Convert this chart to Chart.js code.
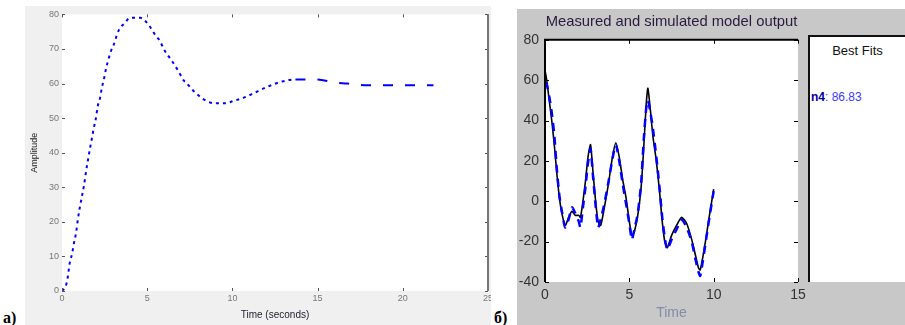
<!DOCTYPE html>
<html><head><meta charset="utf-8">
<script src="https://cdn.jsdelivr.net/npm/chart.js@4.4.1/dist/chart.umd.min.js"></script>
<style>
html,body{margin:0;padding:0;background:#fff;width:905px;height:325px;overflow:hidden;position:relative;font-family:"Liberation Sans",Arial,sans-serif}
#wa{position:absolute;left:25px;top:6px;width:466px;height:319px;overflow:hidden;background:#f0f0f0}
#ca{position:absolute;left:0;top:0}
#wb{position:absolute;left:517px;top:9px;width:388px;height:316px;background:#c8c8c8}
#cb{position:absolute;left:0;top:0}
#fits{position:absolute;left:808px;top:35px;width:97px;height:247px;background:#fff;border-left:2px solid #111;border-top:2px solid #111;box-sizing:border-box}
#fitsT{position:absolute;left:0;width:95px;top:6px;text-align:center;font-size:13px;color:#111}
#fitsV{position:absolute;left:1px;top:53px;font-size:12px;color:#3a3aff;white-space:nowrap}
#fitsV b{color:#0000a0}
.lab{position:absolute;font-family:"Liberation Serif","DejaVu Serif",serif;font-weight:bold;font-size:16px;line-height:16px;color:#000}
</style></head>
<body>
<div id="wa"><canvas id="ca" width="480" height="319"></canvas></div>
<div id="wb"><canvas id="cb" width="388" height="316"></canvas></div>
<div id="fits"><div id="fitsT">Best Fits</div><div id="fitsV"><b>n4</b>: 86.83</div></div>
<div class="lab" style="left:3px;top:310px">a)</div>
<div class="lab" style="left:494px;top:310px">б)</div>
<script>
// ---- panel a) : step response ----
const stepTime = [0,0.22,0.33,0.45,0.6,0.7,0.82,0.94,1.04,1.18,1.29,1.41,1.51,1.65,1.76,1.86,1.98,2.1,2.24,2.33,2.45,2.57,2.66,2.88,3.04,3.22,3.35,3.51,3.65,4.0,4.6,5.0,5.35,5.53,5.7,5.82,5.96,6.35,6.51,6.78,6.94,7.14,7.28,7.63,7.86,8.22,8.51,8.9,9.7,10.0,10.57,11.25,11.84,12.43,12.92,13.7,15.0,15.96,16.74,17.9,21.8];
const stepAmp  = [0,1.4,3.7,8,11,13.8,16.7,21,24,27.6,30.5,34.5,37.5,41.4,44.3,47,49.7,53.5,56,58.6,61,64,65.8,69.5,71.3,74,75.6,76.7,77.3,79,79,77.5,75,73.6,72.7,71.6,70.1,67.2,66.1,64,62.6,60.9,60.3,58.3,57.2,55.7,54.9,54.3,54.3,54.9,55.7,57.2,58.6,59.8,60.6,61.2,61.2,60.3,60,59.5,59.5];
const xTicksA = [0,5,10,15,20,25];
const yTicksA = [0,10,20,30,40,50,60,70,80];

// ---- panel б) : measured and simulated model output ----
const outTime  = [0,0.1,0.25,0.4,0.55,0.7,0.85,1.0,1.2,1.4,1.6,1.8,2.0,2.1,2.25,2.4,2.55,2.7,2.85,3.0,3.15,3.3,3.5,3.75,4.0,4.2,4.4,4.6,4.8,5.0,5.15,5.3,5.5,5.7,5.85,6.0,6.1,6.25,6.4,6.6,6.8,6.95,7.1,7.25,7.5,7.8,8.1,8.4,8.7,8.9,9.1,9.2,9.35,9.55,9.75,10.0];
const simulated= [59,58,52,44,33,16,3,-5,-13,-9,-3,-6,-10,-13,-3,7,19,26,12,-2,-13,-9,-2,9,21,28,20,9,-1,-11,-19,-14,-6,9,30,46,50,44,36,22,6,-8,-18,-24,-19,-14,-9,-13,-20,-28,-35,-37,-30,-19,-8,5];
const measured = [65,60,50,40,28,14,2,-6,-12,-8,-5,-7,-7,-8,0,10,22,28,14,0,-10,-12,-4,8,22,29,22,11,2,-10,-17,-15,-7,7,26,48,56,45,32,20,4,-10,-20,-23,-17,-12,-8,-11,-19,-26,-33,-34,-28,-18,-7,6];
const xTicksB = [0,5,10,15];
const yTicksB = [-40,-20,0,20,40,60,80];

const pts = (xs, ys) => xs.map((x,i)=>({x, y: ys[i]}));

function framePlugin(id, o){
  return {
    id,
    beforeDraw(chart){
      const {ctx, chartArea:a} = chart;
      ctx.save(); ctx.fillStyle='#fff';
      ctx.fillRect(a.left, a.top, a.right-a.left, a.bottom-a.top);
      ctx.restore();
    },
    afterDraw(chart){
      const {ctx, chartArea:a, scales:{x, y}} = chart;
      ctx.save();
      ctx.strokeStyle = o.tickColor; ctx.lineWidth = 1;
      const L = o.tickLen;
      ctx.beginPath();
      x.ticks.forEach(t=>{
        const px = Math.round(x.getPixelForValue(t.value))+0.5;
        ctx.moveTo(px, a.bottom); ctx.lineTo(px, a.bottom-L);
        ctx.moveTo(px, a.top); ctx.lineTo(px, a.top+L);
      });
      y.ticks.forEach(t=>{
        const py = Math.round(y.getPixelForValue(t.value))+0.5;
        ctx.moveTo(a.left, py); ctx.lineTo(a.left+L, py);
        ctx.moveTo(a.right, py); ctx.lineTo(a.right-L, py);
      });
      ctx.stroke();
      ctx.strokeStyle = o.lineColor; ctx.lineWidth = 2;
      ctx.beginPath();
      o.sides.forEach(s=>{
        if(s==='right'){ctx.moveTo(a.right, a.top); ctx.lineTo(a.right, a.bottom);}
        if(s==='left'){ctx.moveTo(a.left, a.top-1); ctx.lineTo(a.left, a.bottom);}
        if(s==='top'){ctx.moveTo(a.left-1, a.top); ctx.lineTo(a.right, a.top);}
      });
      ctx.stroke();
      ctx.restore();
    }
  };
}

new Chart(document.getElementById('ca'), {
  type: 'line',
  data: { datasets: [{
    data: pts(stepTime, stepAmp),
    borderColor: '#0000ff', borderWidth: 2, pointRadius: 0,
    borderDash: [3,4], cubicInterpolationMode: 'monotone',
    segment: { borderDash: c => c.p0.parsed.x >= 13 ? [10,12] : undefined }
  }]},
  options: {
    responsive: false, animation: false, events: [],
    layout: { padding: { left: 0, top: 7, right: 17, bottom: 0 } },
    plugins: { legend: {display:false}, tooltip: {enabled:false} },
    scales: {
      x: { type: 'linear', min: 0, max: 25,
        afterBuildTicks: s => { s.ticks = xTicksA.map(v=>({value:v})); },
        afterFit: s => { s.height = 34; },
        grid: { display:false, drawTicks:false }, border: { display:false },
        ticks: { padding: 2, color: '#777', font: { size: 9, family: 'Liberation Sans' } },
        title: { display: true, text: 'Time (seconds)', color: '#223', padding: { top: 0, bottom: 4 }, font: { size: 10, family: 'Liberation Sans' } }
      },
      y: { type: 'linear', min: 0, max: 80,
        afterBuildTicks: s => { s.ticks = yTicksA.map(v=>({value:v})); },
        afterFit: s => { s.width = 37; },
        grid: { display:false, drawTicks:false }, border: { display:false },
        ticks: { padding: 3, color: '#777', font: { size: 9, family: 'Liberation Sans' } },
        title: { display: true, text: 'Amplitude', color: '#222', padding: { top: 4, bottom: 0 }, font: { size: 9, family: 'Liberation Sans' } }
      }
    }
  },
  plugins: [framePlugin('frameA', {tickColor:'#555', lineColor:'#777', tickLen:3, sides:['right']})]
});

new Chart(document.getElementById('cb'), {
  type: 'line',
  data: { datasets: [
    { label: 'simulated', data: pts(outTime, simulated), borderColor: '#0000ff', borderWidth: 2.5, pointRadius: 0, borderDash: [8,6], tension: 0.2 },
    { label: 'measured', data: pts(outTime, measured), borderColor: '#000', borderWidth: 1.6, pointRadius: 0, tension: 0.2 }
  ]},
  options: {
    responsive: false, animation: false, events: [],
    layout: { padding: { left: 0, top: 0, right: 107, bottom: 0 } },
    plugins: {
      legend: {display:false}, tooltip: {enabled:false},
      title: { display: true, fullSize: false, text: 'Measured and simulated model output', color: '#2a1a40',
        padding: { top: 4, bottom: 9 }, font: { size: 14.8, weight: 'normal', family: 'Liberation Sans' } }
    },
    scales: {
      x: { type: 'linear', min: 0, max: 15,
        afterBuildTicks: s => { s.ticks = xTicksB.map(v=>({value:v})); },
        afterFit: s => { s.height = 43; },
        grid: { display:false, drawTicks:false }, border: { display:false },
        ticks: { padding: 5, color: '#333', font: { size: 14, family: 'Liberation Sans' } },
        title: { display: true, text: 'Time', color: '#7f8ea6', padding: { top: 0, bottom: 3 }, font: { size: 14, family: 'Liberation Sans' } }
      },
      y: { type: 'linear', min: -40, max: 80,
        afterBuildTicks: s => { s.ticks = yTicksB.map(v=>({value:v})); },
        afterFit: s => { s.width = 28; },
        grid: { display:false, drawTicks:false }, border: { display:false },
        ticks: { padding: 6, color: '#333', font: { size: 14, family: 'Liberation Sans' } }
      }
    }
  },
  plugins: [framePlugin('frameB', {tickColor:'#000', lineColor:'#000', tickLen:4, sides:['left','top']})]
});
</script>
</body></html>
